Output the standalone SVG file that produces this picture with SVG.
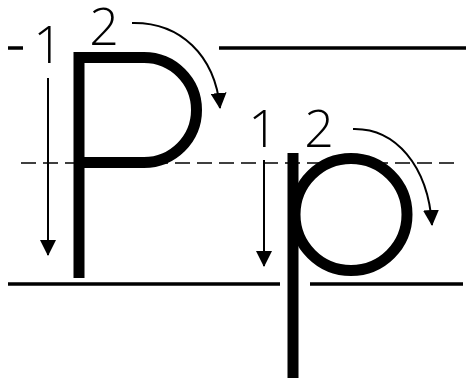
<svg xmlns="http://www.w3.org/2000/svg" width="466" height="382" viewBox="0 0 466 382">
<style>
.rule{stroke:#000;stroke-width:3.5;fill:none}
.dash{stroke:#000;stroke-width:1.6;stroke-dasharray:15 7;fill:none}
.letter{stroke:#000;stroke-width:11;fill:none}
.arrow{stroke:#000;stroke-width:2;fill:none;marker-end:url(#head)}
.num{font-family:"Open Sans","Liberation Sans",sans-serif;font-weight:300;font-size:52px;fill:#000;text-anchor:middle}
</style>
<defs>
<marker id="head" markerUnits="userSpaceOnUse" markerWidth="16" markerHeight="16" refX="15" refY="8" orient="auto" viewBox="0 0 16 16">
<path d="M0,0 L16,8 L0,16 z" fill="#000"/>
</marker>
</defs>
<rect width="466" height="382" fill="#fff"/>
<g id="guides">
<line class="rule" x1="8" y1="48" x2="23" y2="48"/>
<line class="rule" x1="219" y1="48" x2="466" y2="48"/>
<line class="dash" x1="21" y1="163" x2="460" y2="163"/>
<line class="rule" x1="8" y1="284" x2="280" y2="284"/>
<line class="rule" x1="310" y1="284" x2="463" y2="284"/>
</g>
<g id="letter-P">
<line class="letter" x1="79" y1="52" x2="79" y2="278"/>
<path class="letter" d="M79 57.5 H144 A52.5 52.5 0 0 1 144 162.5 H79"/>
</g>
<g id="letter-p">
<line class="letter" x1="293" y1="153" x2="293" y2="378"/>
<circle class="letter" cx="351" cy="214.5" r="56"/>
</g>
<g id="labels">
<text class="num" x="48" y="63">1</text>
<text class="num" x="104" y="45">2</text>
<text class="num" x="263" y="147">1</text>
<text class="num" x="319" y="147">2</text>
</g>
<g id="connectors">
<path class="arrow" d="M48 78 V255"/>
<path class="arrow" d="M132 23 C180 22 215 55 220 108"/>
<path class="arrow" d="M264 160 V266"/>
<path class="arrow" d="M353 129 C395 128 428 165 432 225"/>
</g>
</svg>
